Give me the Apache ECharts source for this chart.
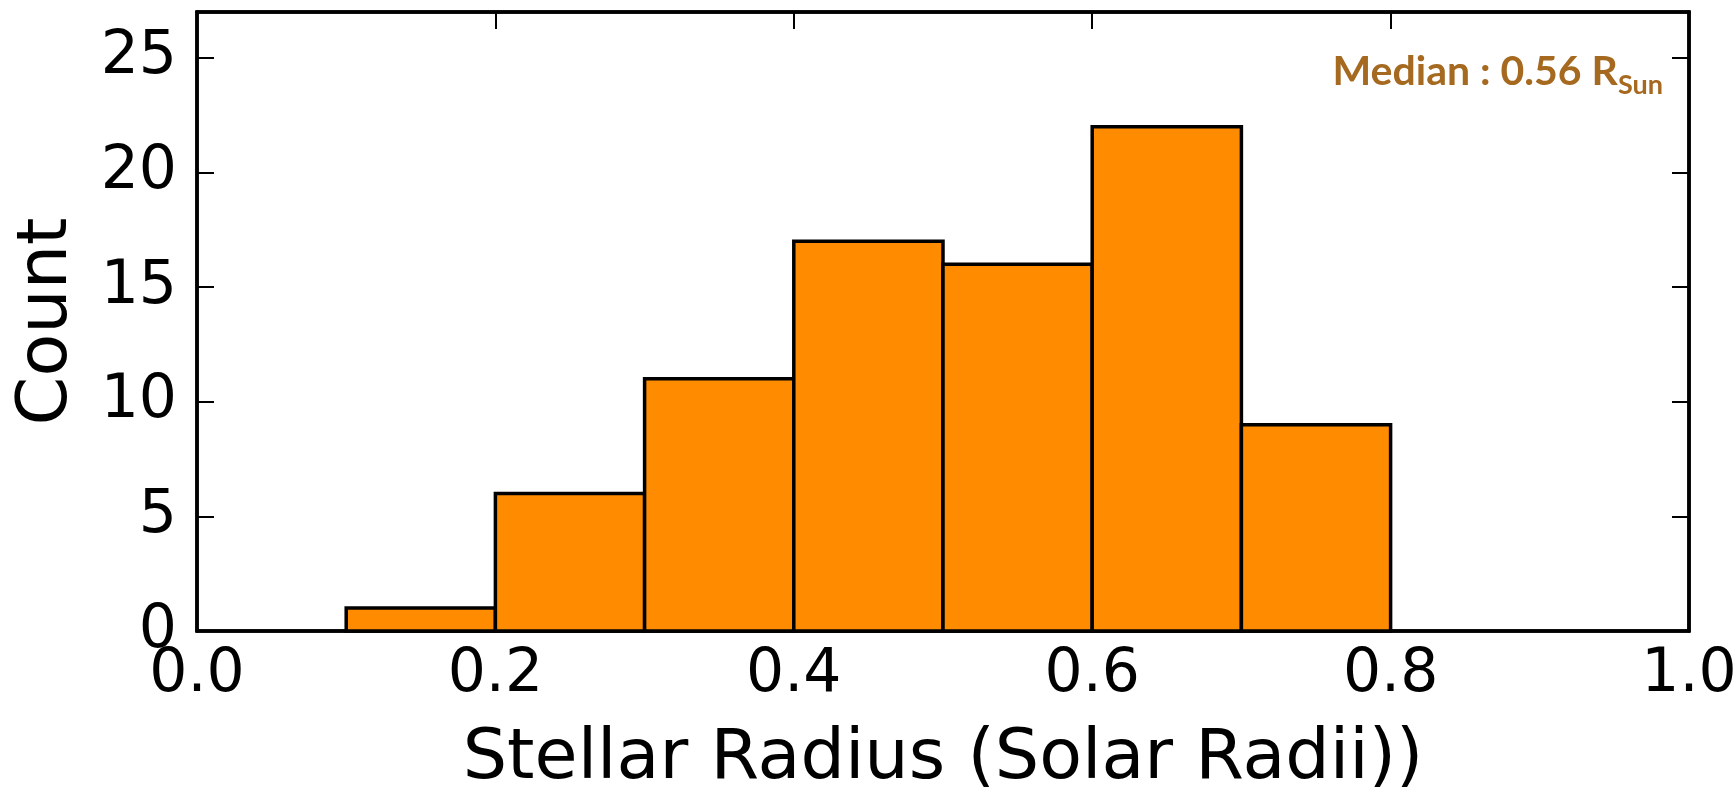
<!DOCTYPE html>
<html>
<head>
<meta charset="utf-8">
<script src="https://cdn.jsdelivr.net/npm/echarts@6/dist/echarts.min.js"></script>
<style>
  html, body { margin: 0; padding: 0; background: #fff; }
  #chart { width: 1735px; height: 790px; }
</style>
</head>
<body>
<div id="chart"></div>
<script>
// Histogram bins (stellar radius, solar radii) and counts per bin
const binStart = [0.1, 0.2, 0.3, 0.4, 0.5, 0.6, 0.7];
const binEnd   = [0.2, 0.3, 0.4, 0.5, 0.6, 0.7, 0.8];
const counts   = [1, 6, 11, 17, 16, 22, 9];

const xTicks = [0.0, 0.2, 0.4, 0.6, 0.8, 1.0];
const yTicks = [0, 5, 10, 15, 20, 25];
const medianValue = 0.56;

const FONT = 'DejaVu Sans';
const chart = echarts.init(document.getElementById('chart'));

const histData = binStart.map((s, i) => [s, binEnd[i], counts[i]]);

const tickStyle = { show: true, inside: true, length: 17, lineStyle: { color: '#000', width: 2 } };

chart.setOption({
  animation: false,
  backgroundColor: '#fff',
  grid: {
    left: 197, right: 46, top: 12, bottom: 159,
    outerBoundsMode: 'none', containLabel: false,
    show: true, borderColor: '#000', borderWidth: 3.5, backgroundColor: 'transparent'
  },
  xAxis: [{
    type: 'value', min: 0, max: 1, interval: 0.2,
    axisLine: { show: true, onZero: false, lineStyle: { color: '#000', width: 3.5 } },
    axisTick: tickStyle,
    splitLine: { show: false },
    axisLabel: { fontFamily: FONT, fontSize: 60, color: '#000', margin: 14,
      formatter: v => v.toFixed(1) },
    name: 'Stellar Radius (Solar Radii))',
    nameLocation: 'middle', nameGap: 94,
    nameTextStyle: { fontFamily: FONT, fontSize: 70, color: '#000' }
  }, {
    type: 'value', min: 0, max: 1, interval: 0.2, position: 'top',
    axisLine: { show: true, onZero: false, lineStyle: { color: '#000', width: 3.5 } },
    axisTick: tickStyle, axisLabel: { show: false }, splitLine: { show: false }
  }],
  yAxis: [{
    type: 'value', min: 0, max: 27, interval: 5,
    axisLine: { show: true, onZero: false, lineStyle: { color: '#000', width: 3.5 } },
    axisTick: tickStyle,
    splitLine: { show: false },
    axisLabel: { fontFamily: FONT, fontSize: 60, color: '#000', margin: 20,
      showMaxLabel: false, formatter: v => (v % 5 === 0 ? String(v) : '') },
    name: 'Count',
    nameLocation: 'middle', nameGap: 114,
    nameTextStyle: { fontFamily: FONT, fontSize: 70, color: '#000' }
  }, {
    type: 'value', min: 0, max: 27, interval: 5, position: 'right',
    axisLine: { show: true, onZero: false, lineStyle: { color: '#000', width: 3.5 } },
    axisTick: tickStyle, axisLabel: { show: false }, splitLine: { show: false }
  }],
  graphic: [{
    type: 'text',
    right: 72, top: 51,
    style: {
      text: '{m|Median : ' + medianValue.toFixed(2) + ' R}{s|Sun}',
      rich: {
        m: { fontFamily: 'Lato', fontWeight: 'bold', fontSize: 41, fill: '#A5691F', lineHeight: 44, verticalAlign: 'top' },
        s: { fontFamily: 'Lato', fontWeight: 'bold', fontSize: 27, fill: '#A5691F', lineHeight: 27, padding: [21, 0, 0, 0], verticalAlign: 'top' }
      }
    }
  }],
  series: [{
    type: 'custom',
    xAxisIndex: 0, yAxisIndex: 0,
    data: histData,
    renderItem: (params, api) => {
      const p0 = api.coord([api.value(0), api.value(2)]);
      const p1 = api.coord([api.value(1), 0]);
      return {
        type: 'rect',
        shape: { x: p0[0], y: p0[1], width: p1[0] - p0[0], height: p1[1] - p0[1] },
        style: { fill: '#FF8C00', stroke: '#000', lineWidth: 3.5 }
      };
    },
    encode: { x: [0, 1], y: 2 },
    z: 1
  }]
});
</script>
</body>
</html>
